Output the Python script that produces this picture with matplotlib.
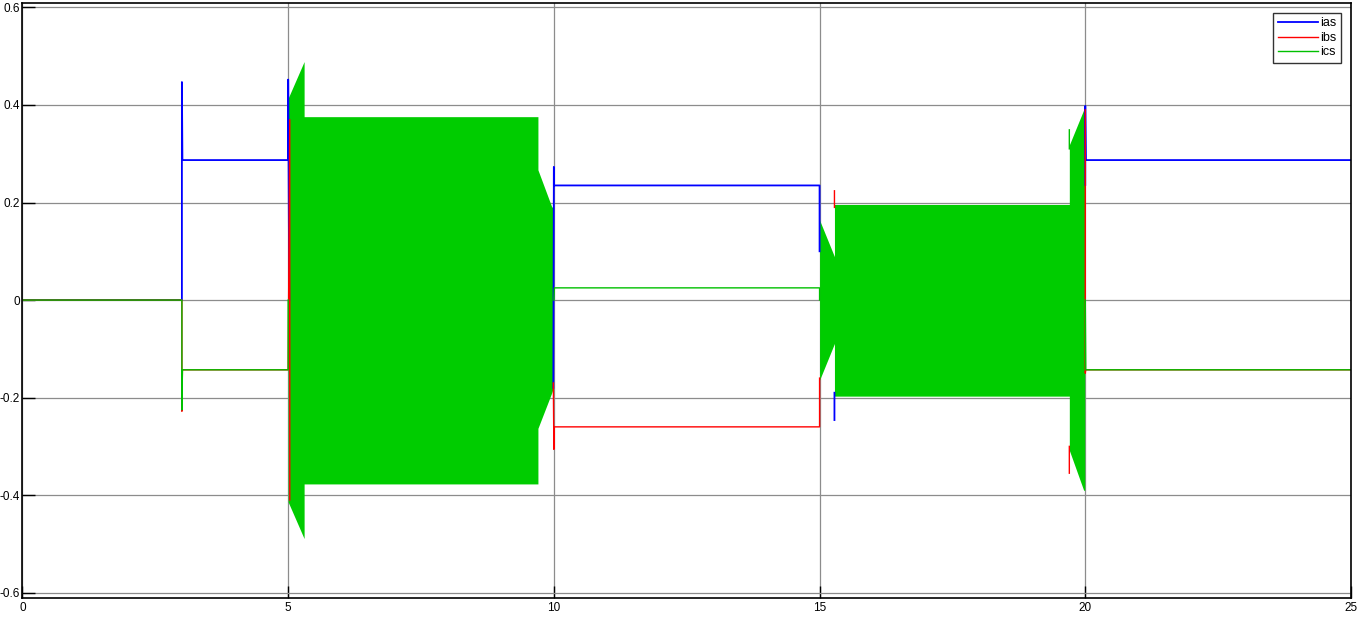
import numpy as np
import matplotlib.pyplot as plt

nan = np.nan

# phase currents, corner points
ias_t = [0, 3, 3, 3.01, 5, 5, 5.02, nan, 9.99, 10, 10, 10.01, 15, 15, nan,
         15.28, 15.28, nan, 20, 20, 20.01, 25]
ias_v = [0, 0, 0.447, 0.287, 0.287, 0.452, 0.0, nan, -0.18, 0.273, 0.235, 0.235, 0.235, 0.10, nan,
         -0.19, -0.246, nan, 0.236, 0.398, 0.287, 0.287]

ibs_t = [0, 3, 3, 3.01, 5, 5.03, 5.03, nan, 9.99, 10, 10, 10.01, 15, 15, nan,
         15.28, 15.28, nan, 19.7, 19.7, nan, 20, 20, 20.01, 25]
ibs_v = [0, 0, -0.228, -0.143, -0.143, 0.37, -0.41, nan, -0.17, -0.306, -0.26, -0.26, -0.26, -0.16, nan,
         0.19, 0.224, nan, -0.30, -0.355, nan, 0.39, -0.15, -0.143, -0.143]

ics_t = [0, 3, 3, 3.01, 5, 5, nan, 10, 10.01, 15, 15, nan,
         19.7, 19.7, nan, 20, 20.01, 25]
ics_v = [0, 0, -0.225, -0.143, -0.143, 0.0, nan, 0.0, 0.025, 0.025, 0.0, nan,
         0.31, 0.349, nan, 0.0, -0.143, -0.143]

# envelope of the fast oscillation in ics
env1_t = [5.0, 5.3, 5.3, 9.7, 9.7, 9.96, 9.99]
env1_hi = [0.414, 0.489, 0.376, 0.376, 0.267, 0.191, 0.19]
env1_lo = [-0.414, -0.489, -0.377, -0.377, -0.263, -0.19, -0.18]

env2_t = [15.0, 15.28, 15.28, 19.7, 19.7, 19.97, 19.99]
env2_hi = [0.164, 0.089, 0.196, 0.196, 0.318, 0.39, 0.39]
env2_lo = [-0.164, -0.089, -0.197, -0.197, -0.308, -0.39, -0.39]

xticks = [0, 5, 10, 15, 20, 25]
yticks = [-0.6, -0.4, -0.2, 0, 0.2, 0.4, 0.6]
yticklabels = ["-0.6", "-0.4", "-0.2", "0", "0.2", "0.4", "0.6"]

plt.rcParams["font.family"] = ["Liberation Sans", "DejaVu Sans"]

fig = plt.figure(figsize=(13.62, 6.17), dpi=100)
ax = fig.add_axes([0.0165, 0.0303, 0.9919 - 0.0165, 0.9951 - 0.0303])

green = "#00cc00"
ax.plot(ias_t, ias_v, color="#0000ff", lw=1.3, label="ias")
ax.plot(ibs_t, ibs_v, color="#ff0000", lw=1.0, label="ibs")
ax.plot(ics_t, ics_v, color="#00c000", lw=1.0, label="ics")
ax.fill_between(env1_t, env1_lo, env1_hi, color=green, lw=0)
ax.fill_between(env2_t, env2_lo, env2_hi, color=green, lw=0)

ax.set_xlim(0, 25)
ax.set_ylim(-0.6115, 0.609)
ax.set_xticks(xticks)
ax.set_xticklabels([str(x) for x in xticks])
ax.set_yticks(yticks)
ax.set_yticklabels(yticklabels)
ax.tick_params(direction="in", length=9, width=1, labelsize=8.5, colors="black")
ax.tick_params(axis="y", pad=2)
ax.tick_params(axis="x", pad=3)
ax.grid(True, color="#8c8c8c", lw=0.9)
ax.set_axisbelow(True)
for s in ax.spines.values():
    s.set_linewidth(1.2)
    s.set_color("black")

leg = ax.legend(loc="upper right", fontsize=9, frameon=True, fancybox=False,
                handlelength=3.2, handletextpad=0.2, borderpad=0.35, labelspacing=0.2,
                borderaxespad=0.8)
leg.get_frame().set_edgecolor("black")
leg.get_frame().set_linewidth(1.0)

fig.savefig("out.png", dpi=100)
